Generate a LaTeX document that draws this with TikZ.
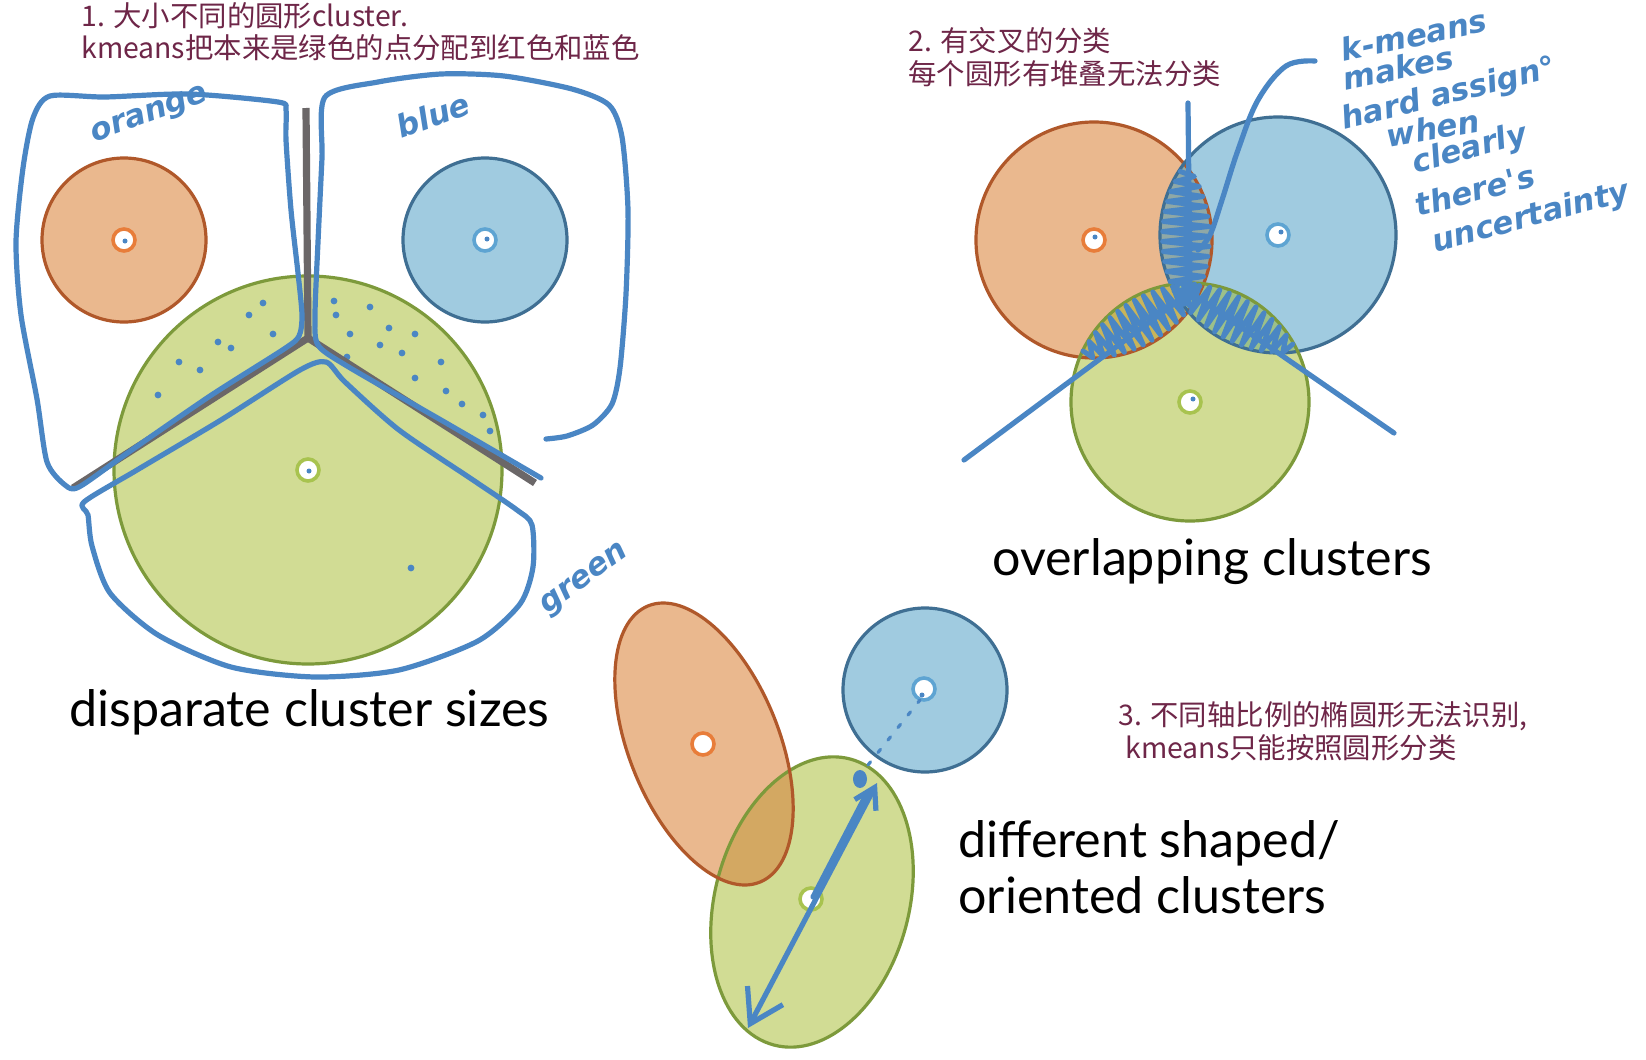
\documentclass[tikz,border=0pt]{standalone}
\usepackage{fontspec}
\setmainfont{Lato}
\newfontfamily\cjkfont{Noto Sans CJK SC}
\newfontfamily\handfont{DejaVu Sans}
\usetikzlibrary{arrows.meta}
\definecolor{ofill}{RGB}{234,184,142}
\definecolor{oline}{RGB}{176,88,42}
\definecolor{oring}{RGB}{232,125,58}
\definecolor{bfill}{RGB}{160,203,224}
\definecolor{bline}{RGB}{63,111,147}
\definecolor{bring}{RGB}{94,164,210}
\definecolor{gfill}{RGB}{209,220,148}
\definecolor{gline}{RGB}{125,154,59}
\definecolor{gring}{RGB}{168,195,79}
\definecolor{pen}{RGB}{74,134,196}
\definecolor{ygray}{RGB}{107,103,104}
\definecolor{maroon}{RGB}{110,38,72}
\definecolor{ogmix}{RGB}{211,168,98}
\definecolor{og2mix}{RGB}{200,180,90}
\definecolor{obmix}{RGB}{143,168,166}
\definecolor{bgmix}{RGB}{156,192,138}
\tikzset{
  rimline/.style={line width=1.6pt},
  ctr/.style={circle, fill=white, draw=#1, line width=1.8pt, minimum size=11pt, inner sep=0pt},
  penline/.style={draw=pen, line width=2.6pt, line cap=round, line join=round},
  scribble/.style={draw=pen, line width=2.5pt, line cap=round, line join=round},
  cjk/.style={text=maroon, font=\cjkfont\fontsize{14.2}{17}\selectfont, anchor=base west, inner sep=0pt},
  caption/.style={font=\fontsize{25.1}{29}\selectfont, anchor=base west, inner sep=0pt},
  hand/.style={text=pen, font=\handfont\bfseries\itshape\fontsize{15.5}{18}\selectfont, inner sep=0pt},
}
\begin{document}
\begin{tikzpicture}[x=0.5pt,y=-0.5pt,
  declare function={zt(\k)=-66+5*\k; zs(\k,\zr,\zd)=0.88*(2*mod(\k,2)-1)*(sqrt(\zr*\zr-zt(\k)*zt(\k))-\zd/2);}]
\useasboundingbox (0,0) rectangle (1646,1060);
\fill[white] (0,0) rectangle (1646,1060);

% ---------------- panel 1 ----------------
\fill[ofill] (124,240) circle[radius=82];
\draw[oline,rimline] (124,240) circle[radius=82];
\fill[bfill] (485,240) circle[radius=82];
\draw[bline,rimline] (485,240) circle[radius=82];
\fill[gfill] (308,470) circle[radius=194];
\draw[gline,rimline] (308,470) circle[radius=194];
\node[ctr=oring] (oc1) at (124,240) {};
\node[ctr=bring] (bc1) at (485,240) {};
\node[ctr=gring] (gc1) at (308,470) {};
\foreach \p in {(125,241),(487,239),(309,471)} \fill[pen] \p circle[radius=2.5];
\foreach \p in {(249,315),(218,342),(231,348),(273,334),(179,362),(200,370),(158,395),(334,301),(336,315),(350,334),(370,307),(347,357),(389,328),(415,334),(402,353),(441,362),(415,378),(446,391),(462,404),(483,415),(490,431),(411,568),(263,303),(380,345)}
  \fill[pen] \p circle[radius=3.4];
% gray Y
\coordinate (yc) at (308,338);
\coordinate (yt) at (306,108);
\coordinate (yl) at (73,488);
\coordinate (yr) at (535,483);
\draw[ygray, line width=3.6pt] (yt) -- (yc) -- (yl);
\draw[ygray, line width=3.6pt] (yc) -- (yr);
% pen outlines
\draw[penline] plot[smooth cycle, tension=0.45] coordinates {(65,485) (47,462) (37,399) (21,315) (16,242) (23,168) (33,118) (50,96) (105,97) (189,94) (278,102) (286,110) (286,140) (291,210) (298,273) (302,315) (299,336) (284,349) (210,396) (126,454) (79,487)};
\draw[penline] plot[smooth, tension=0.45] coordinates {(541,478) (441,420) (347,366) (318,345) (315,315) (318,242) (322,158) (325,97) (378,82) (441,74) (504,76) (572,89) (609,105) (622,137) (628,210) (626,294) (620,368) (612,404) (593,425) (567,436) (546,439)};
\draw[penline] plot[smooth cycle, tension=0.45] coordinates {(84,502) (137,470) (221,420) (300,370) (326,362) (345,382) (399,430) (473,480) (517,510) (532,525) (533,567) (520,604) (478,641) (399,670) (315,677) (231,667) (158,635) (110,593) (92,546) (88,515)};
\node[hand, rotate=20] (lo) at (150,116) {orange};
\node[hand, rotate=20] (lb) at (433,115) {blue};
\node[hand, rotate=36] (lg) at (585,580) {green};
\node[cjk] (t1a) at (81,26) {1. 大小不同的圆形cluster.};
\node[cjk] (t1b) at (81,58) {kmeans把本来是绿色的点分配到红色和蓝色};
\node[caption] (c1) at (69,726) {disparate cluster sizes};

% ---------------- panel 2 ----------------
\fill[ofill] (1094,240) circle[radius=118];
\fill[bfill] (1278,235) circle[radius=118];
\fill[gfill] (1190,402) circle[radius=119];
\begin{scope}
  \clip (1094,240) circle[radius=118];
  \fill[obmix] (1278,235) circle[radius=118];
  \fill[og2mix] (1190,402) circle[radius=119];
\end{scope}
\begin{scope}
  \clip (1278,235) circle[radius=118];
  \fill[bgmix] (1190,402) circle[radius=119];
\end{scope}
\draw[oline,rimline] (1094,240) circle[radius=118];
\draw[bline,rimline] (1278,235) circle[radius=118];
\draw[gline,rimline] (1190,402) circle[radius=119];
\node[ctr=oring] (oc2) at (1094,240) {};
\node[ctr=bring] (bc2) at (1278,235) {};
\node[ctr=gring] (gc2) at (1190,402) {};
\foreach \p in {(1095,237),(1281,232),(1193,399)} \fill[pen] \p circle[radius=2.5];
% boundaries
\coordinate (j2) at (1190,292);
\coordinate (v2) at (1188,103);
\coordinate (l2) at (964,460);
\coordinate (r2) at (1394,433);
\draw[penline] (v2) -- (j2);
\draw[penline] (l2) -- (j2);
\draw[penline] (r2) -- (j2);
% scribbles
\draw[scribble] plot[samples at={0,...,26}] ({1186+zs(\x,118,183)}, {237.5+zt(\x)});
\draw[scribble] plot[samples at={0,...,26}] ({1142+0.5059*zs(\x,118.5,187.8)+0.8626*zt(\x)}, {321+0.8626*zs(\x,118.5,187.8)-0.5059*zt(\x)});
\draw[scribble] plot[samples at={0,...,26}] ({1234-0.4661*zs(\x,118.5,188.8)+0.8845*zt(\x)}, {318.5+0.8845*zs(\x,118.5,188.8)+0.4661*zt(\x)});
% callout
\draw[penline] plot[smooth, tension=0.6] coordinates {(1315,61) (1286,66) (1258,100) (1238,150) (1222,200) (1210,235) (1198,250)};
\node[hand, rotate=12] (h1) at (1414,35) {k-means};
\node[hand, rotate=12] (h2) at (1398,68) {makes};
\node[hand, rotate=14] (h3) at (1449,95) {hard assign°};
\node[hand, rotate=10] (h4) at (1433,128) {when};
\node[hand, rotate=15] (h5) at (1470,150) {clearly};
\node[hand, rotate=15] (h6) at (1475,190) {there's};
\node[hand, rotate=15] (h7) at (1531,218) {uncertainty};
\node[cjk] (t2a) at (908,51) {2. 有交叉的分类};
\node[cjk] (t2b) at (908,84) {每个圆形有堆叠无法分类};
\node[caption] (c2) at (992,575) {overlapping clusters};

% ---------------- panel 3 ----------------
\fill[gfill, rotate around={-15:(812,902)}] (812,902) ellipse[x radius=97, y radius=148];
\fill[ofill, rotate around={22:(704,744)}] (704,744) ellipse[x radius=75, y radius=149];
\begin{scope}
  \clip[rotate around={-15:(812,902)}] (812,902) ellipse[x radius=97, y radius=148];
  \fill[ogmix, rotate around={22:(704,744)}] (704,744) ellipse[x radius=75, y radius=149];
\end{scope}
\draw[gline, rimline, rotate around={-15:(812,902)}] (812,902) ellipse[x radius=97, y radius=148];
\draw[oline, rimline, rotate around={22:(704,744)}] (704,744) ellipse[x radius=75, y radius=149];
\fill[bfill] (925,690) circle[radius=82];
\draw[bline,rimline] (925,690) circle[radius=82];
\node[ctr=oring] (oc3) at (703,744) {};
\node[ctr=bring] (bc3) at (924,689) {};
\node[ctr=gring] (gc3) at (811,899) {};
\fill[pen] (922,695) circle[radius=2.5];
\coordinate (a1) at (748,1028);
\coordinate (a2) at (877,783);
\draw[penline, {Straight Barb[length=16pt,width=20pt]}-{Straight Barb[length=10pt,width=12pt]}] (a1) -- (a2);
\draw[penline] (813,897) -- (867,793);
\fill[pen] (860,779) ellipse[x radius=7, y radius=9];
\draw[pen, line width=1.6pt, dash pattern=on 2pt off 6pt, line cap=round] (868,765) -- (920,700);
\node[cjk] (t3a) at (1118,725) {3. 不同轴比例的椭圆形无法识别,};
\node[cjk] (t3b) at (1125,758) {kmeans只能按照圆形分类};
\node[caption] (c3) at (958,857) {different shaped/};
\node[caption] (c4) at (958,913) {oriented clusters};
\end{tikzpicture}
\end{document}
